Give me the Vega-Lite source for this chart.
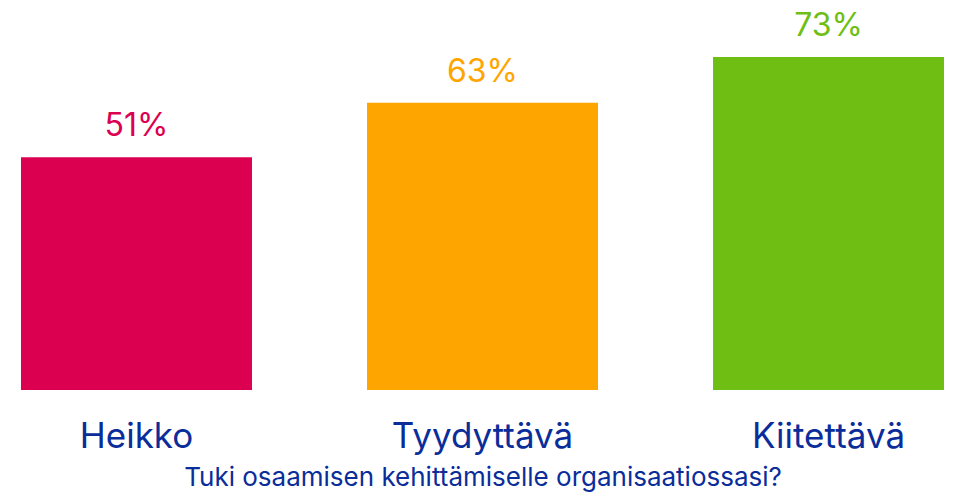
{
  "$schema": "https://vega.github.io/schema/vega-lite/v6.json",
  "width": 944,
  "height": 390,
  "autosize": {"type": "none"},
  "padding": {"left": 10.5, "top": 0, "right": 0, "bottom": 108},
  "background": "white",
  "config": {"view": {"stroke": null}, "font": "Inter"},
  "data": {
    "values": [
      {"category": "Heikko", "value": 51, "label": "51%"},
      {"category": "Tyydyttävä", "value": 63, "label": "63%"},
      {"category": "Kiitettävä", "value": 73, "label": "73%"}
    ]
  },
  "encoding": {
    "x": {
      "field": "category",
      "type": "nominal",
      "sort": null,
      "scale": {"paddingInner": 0.3324, "paddingOuter": 0.0303},
      "axis": {
        "title": "Tuki osaamisen kehittämiselle organisaatiossasi?",
        "titleFont": "Inter",
        "titleFontSize": 26,
        "titleFontWeight": "normal",
        "titleColor": "#0a2d9a",
        "titlePadding": 10,
        "titleLimit": 900,
        "labelFont": "Inter",
        "labelFontSize": 35,
        "labelColor": "#0a2d9a",
        "labelAngle": 0,
        "labelPadding": 29,
        "labelLimit": 400,
        "domain": false,
        "ticks": false
      }
    },
    "y": {
      "field": "value",
      "type": "quantitative",
      "scale": {"domain": [0, 85.5]},
      "axis": null
    },
    "color": {
      "field": "category",
      "type": "nominal",
      "scale": {
        "domain": ["Heikko", "Tyydyttävä", "Kiitettävä"],
        "range": ["#dc0050", "#ffa500", "#6fbe14"]
      },
      "legend": null
    }
  },
  "layer": [
    {"mark": {"type": "bar"}},
    {
      "mark": {"type": "text", "baseline": "alphabetic", "dy": -21, "fontSize": 32, "font": "Inter"},
      "encoding": {"text": {"field": "label"}}
    }
  ]
}
